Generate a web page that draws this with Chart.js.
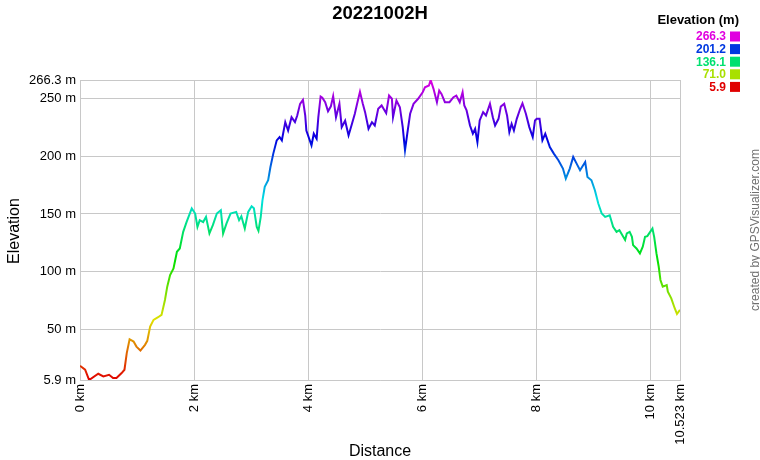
<!DOCTYPE html>
<html>
<head>
<meta charset="utf-8">
<script src="https://cdn.jsdelivr.net/npm/chart.js@4"></script>
<style>
  body { margin: 0; background: #fff; }
  canvas { display: block; }
</style>
</head>
<body>
<canvas id="elevChart" width="760" height="460"></canvas>
<script>
// distance along the track, km
const distKm = [
  0, 0.09, 0.16, 0.32, 0.41, 0.51, 0.58, 0.64, 0.73, 0.78,
  0.82, 0.87, 0.94, 0.99, 1.06, 1.14, 1.18, 1.23, 1.29, 1.37,
  1.43, 1.49, 1.53, 1.58, 1.64, 1.70, 1.75, 1.81, 1.87, 1.96,
  2.02, 2.06, 2.10, 2.16, 2.21, 2.27, 2.33, 2.40, 2.47, 2.51,
  2.57, 2.64, 2.74, 2.79, 2.83, 2.89, 2.95, 3.01, 3.05, 3.10,
  3.13, 3.17, 3.20, 3.24, 3.30, 3.34, 3.39, 3.45, 3.50, 3.54,
  3.60, 3.65, 3.71, 3.77, 3.81, 3.86, 3.91, 3.95, 3.97, 4.02,
  4.06, 4.10, 4.15, 4.18, 4.22, 4.25, 4.30, 4.35, 4.40, 4.44,
  4.49, 4.55, 4.59, 4.65, 4.71, 4.77, 4.82, 4.86, 4.91, 4.96,
  5.00, 5.06, 5.12, 5.17, 5.23, 5.29, 5.37, 5.42, 5.47, 5.49,
  5.55, 5.61, 5.66, 5.70, 5.74, 5.79, 5.85, 5.93, 6.01, 6.05,
  6.12, 6.15, 6.20, 6.26, 6.30, 6.34, 6.40, 6.48, 6.55, 6.60,
  6.66, 6.71, 6.74, 6.78, 6.84, 6.89, 6.93, 6.97, 7.01, 7.07,
  7.12, 7.19, 7.24, 7.28, 7.34, 7.38, 7.44, 7.49, 7.53, 7.57,
  7.61, 7.66, 7.72, 7.76, 7.82, 7.88, 7.94, 7.98, 8.01, 8.06,
  8.11, 8.16, 8.24, 8.31, 8.39, 8.47, 8.52, 8.59, 8.65, 8.71,
  8.77, 8.86, 8.90, 8.97, 9.03, 9.09, 9.15, 9.21, 9.29, 9.35,
  9.41, 9.46, 9.52, 9.56, 9.59, 9.64, 9.68, 9.70, 9.76, 9.82,
  9.87, 9.91, 9.95, 10.00, 10.04, 10.07, 10.11, 10.15, 10.18, 10.22,
  10.29, 10.31, 10.37, 10.43, 10.47, 10.523
];

// elevation, m
const elevM = [
  18.2, 14.8, 5.9, 11.3, 9.0, 10.4, 7.6, 7.6, 11.9, 14.8,
  29.2, 41.3, 39.3, 34.9, 31.5, 36.4, 39.9, 52.3, 58.1, 60.4,
  62.4, 75.4, 86.9, 97, 102.8, 117.2, 120.1, 134.5, 143.2, 154.8,
  150.4, 138.8, 144.6, 143, 147.5, 133.1, 140.3, 150.4, 153.3, 133.1,
  141.8, 150.4, 151.8, 144.6, 148, 137.4, 151.8, 156.7, 155, 138.8,
  135.4, 147.5, 161.9, 173.5, 179.3, 190.8, 202.4, 213.9, 216.8, 213.9,
  229.7, 222.5, 234, 229.7, 235.5, 245.6, 249, 235.5, 222.5, 215.3,
  209.5, 219.7, 215.3, 234, 252, 251, 247, 239.2, 243.5, 252.3,
  234, 245.6, 225.4, 231, 218.2, 228.3, 237, 245.6, 256, 245.6,
  238.4, 224, 229.7, 226.8, 241.3, 244.2, 237.5, 252.8, 250, 234,
  248.5, 242.7, 225.4, 205.3, 219.7, 237, 245.6, 250, 255.7, 260,
  261.5, 266.3, 258.6, 247, 257.1, 254.2, 247, 247, 251.4, 252.8,
  247, 255.7, 244.2, 239.9, 226.8, 219.7, 224, 212.4, 231.2, 238.4,
  235.5, 245.6, 234, 226.8, 232.6, 243.3, 245.6, 235.5, 221.1, 228.3,
  222.5, 232.6, 241.3, 246.1, 237, 225.4, 216.8, 231.2, 232.6, 232.6,
  213.9, 219.7, 208.1, 202.4, 196.6, 189.4, 180.7, 189.4, 199.5, 193.7,
  187.9, 195.1, 182.1, 179.3, 170.6, 159.1, 150.4, 147.5, 148.9, 138.8,
  134.5, 135.9, 130.8, 127.4, 133.1, 134.5, 130.2, 123, 120.1, 115.8,
  121.6, 130.2, 130.8, 134.5, 137.4, 130.2, 115.8, 104.2, 92.7, 86.9,
  88.3, 82.5, 76.8, 68.2, 63.2, 66.7
];

const xTicks = [0, 2, 4, 6, 8, 10, 10.523];
const yTicks = [5.9, 50, 100, 150, 200, 250, 266.3];
const legendValues = [266.3, 201.2, 136.1, 71.0, 5.9];

const elevMin = 5.9;
const elevMax = 266.3;
const font = "'Liberation Sans', Arial, sans-serif";
const gridColor = "#c8c8c8";

function elevColor(v) {
    const hue = 300 * (v - elevMin) / (elevMax - elevMin);
    return `hsl(${hue.toFixed(1)}, 100%, 44%)`;
}

function lineGradient(context) {
    const chart = context.chart;
    const area = chart.chartArea;
    if (!area) return "red";
    const yScale = chart.scales.y;
    const y0 = yScale.getPixelForValue(elevMin);
    const y1 = yScale.getPixelForValue(elevMax);
    const g = chart.ctx.createLinearGradient(0, y0, 0, y1);
    for (let i = 0; i <= 20; i++) {
        g.addColorStop(i / 20, elevColor(elevMin + (elevMax - elevMin) * i / 20));
    }
    return g;
}

const decorations = {
    id: "decorations",
    afterDraw(chart) {
        const ctx = chart.ctx;
        ctx.save();

        // title
        ctx.fillStyle = "#000";
        ctx.font = `bold 18.5px ${font}`;
        ctx.textAlign = "center";
        ctx.textBaseline = "middle";
        ctx.fillText("20221002H", 380, 14);

        // legend
        ctx.textAlign = "right";
        ctx.font = `bold 13px ${font}`;
        ctx.fillText("Elevation (m)", 739, 20);
        ctx.font = `bold 12px ${font}`;
        legendValues.forEach((v, i) => {
            const y = 36.5 + i * 12.6;
            ctx.fillStyle = elevColor(v);
            ctx.fillText(v.toFixed(1), 726, y + 0.5);
            ctx.fillRect(730, y - 5, 10, 10);
        });

        // axis titles
        ctx.fillStyle = "#000";
        ctx.font = `16px ${font}`;
        ctx.textAlign = "center";
        ctx.fillText("Distance", 380, 452);
        ctx.save();
        ctx.translate(15, 231);
        ctx.rotate(-Math.PI / 2);
        ctx.fillText("Elevation", 0, 0);
        ctx.restore();

        // credit
        ctx.save();
        ctx.translate(756, 230);
        ctx.rotate(-Math.PI / 2);
        ctx.fillStyle = "#707070";
        ctx.font = `12px ${font}`;
        ctx.fillText("created by GPSVisualizer.com", 0, 0);
        ctx.restore();

        ctx.restore();
    }
};

const ctx = document.getElementById("elevChart").getContext("2d");
new Chart(ctx, {
    type: "line",
    data: {
        datasets: [{
            data: distKm.map((d, i) => ({x: d, y: elevM[i]})),
            borderColor: lineGradient,
            borderWidth: 2,
            pointRadius: 0,
            tension: 0,
            fill: false
        }]
    },
    options: {
        responsive: false,
        animation: false,
        layout: {padding: {top: 80, right: 80, left: 0, bottom: 0}},
        plugins: {legend: {display: false}, tooltip: {enabled: false}},
        scales: {
            x: {
                type: "linear",
                min: 0,
                max: 10.523,
                afterBuildTicks: scale => { scale.ticks = xTicks.map(v => ({value: v})); },
                afterFit: scale => { scale.height = 80; },
                ticks: {
                    autoSkip: false,
                    minRotation: 90,
                    maxRotation: 90,
                    padding: 4,
                    color: "#000",
                    font: {family: font, size: 13},
                    callback: v => v + " km"
                },
                grid: {color: gridColor, drawTicks: false},
                border: {color: gridColor}
            },
            y: {
                min: elevMin,
                max: elevMax,
                afterBuildTicks: scale => { scale.ticks = yTicks.map(v => ({value: v})); },
                afterFit: scale => { scale.width = 80; },
                ticks: {
                    autoSkip: false,
                    padding: 4,
                    color: "#000",
                    font: {family: font, size: 13},
                    callback: v => v + " m"
                },
                grid: {color: gridColor, drawTicks: false},
                border: {color: gridColor}
            }
        }
    },
    plugins: [decorations]
});
</script>
</body>
</html>
